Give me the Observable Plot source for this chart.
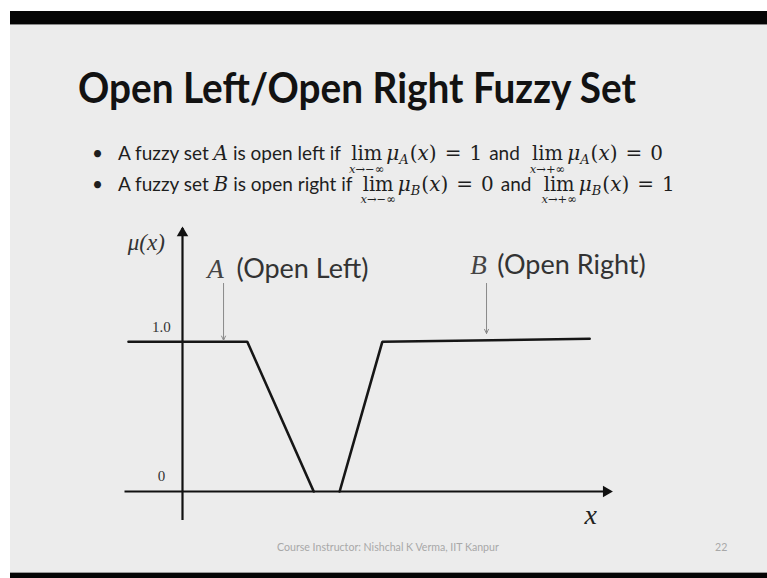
<!DOCTYPE html>
<html><head><meta charset="utf-8">
<script src="https://cdn.jsdelivr.net/npm/d3@7"></script>
<script src="https://cdn.jsdelivr.net/npm/@observablehq/plot@0.6"></script>
<style>
body{margin:0;width:767px;height:578px;background:#fff;overflow:hidden;position:relative;font-family:Lato,"Open Sans",sans-serif}
#slide{position:absolute;left:10px;top:11px;width:757px;height:567px;background:#ececec}
#topbar{position:absolute;left:10px;top:11px;width:757px;height:13px;background:#050505;border-bottom:1px solid #888}
#botbar{position:absolute;left:10px;top:572px;width:757px;height:6px;background:#050505;border-top:1px solid #999}
#title{position:absolute;left:78px;top:66px;font-weight:700;font-size:42px;line-height:1;color:#121212;white-space:nowrap;transform-origin:0 0}
.row{position:absolute;left:90px;display:flex;align-items:baseline;white-space:nowrap;font-size:19px;line-height:1;color:#1e1e1e}
.bul{width:26px;text-align:left;padding-left:2px}
.m{font-family:"DejaVu Serif","Liberation Serif",serif;font-size:20px}
.it{font-style:italic}
.eq{margin:0 8px}
.and{margin:0 2px 0 7px}
.lim{display:inline-flex;flex-direction:column;align-items:center;margin:0 2px 0 8px;font-family:"DejaVu Serif","Liberation Serif",serif;font-size:19.5px;line-height:0.8}
.lim .sub{font-size:11.5px;line-height:0.9;margin-top:2px;font-style:italic}
.ssub{font-size:13px;font-style:italic;position:relative;top:4px;margin-right:1px}
#chart{position:absolute;left:100px;top:215px}
#footer{position:absolute;left:277px;top:541px;font-size:10.6px;color:#a8a8a8;white-space:nowrap}
#page{position:absolute;left:715px;top:541px;font-size:10.6px;color:#a8a8a8}
</style></head>
<body>
<div id="slide"></div>
<div id="topbar"></div>
<div id="botbar"></div>
<div id="title">Open Left/Open Right Fuzzy Set</div>
<div id="bullets"></div>
<div id="chart"></div>
<div id="footer">Course Instructor: Nishchal K Verma, IIT Kanpur</div>
<div id="page">22</div>
<script>
// ---- text data ----
const bulletSets = ["A", "B"];
const bulletKinds = ["open left", "open right"];
const limMinusValues = ["1", "0"];
const limPlusValues = ["0", "1"];

// ---- chart data ----
const setA_x = [-1.0, 1.2, 2.43];
const setA_mu = [1, 1, 0];
const setB_x = [2.91, 3.70, 7.54];
const setB_mu = [0, 1, 1.02];
const xAxisRange = [-1.0, 7.94];
const yAxisRange = [-0.19, 1.76];
const tickValues = [1, 0];
const tickLabels = ["1.0", "0"];
const annLetters = ["A", "B"];
const annWords = ["(Open Left)", "(Open Right)"];
const annLetterX = [0.46, 5.33];
const annWordX = [1.0, 5.83];
const annBaseline = [1.423, 1.456];
const pointerX = [0.76, 5.63];
const pointerTop = [1.39, 1.39];
const pointerBottom = [1.01, 1.055];

// title fitted to the reference width
const title = document.getElementById("title");
const tw = title.getBoundingClientRect().width;
title.style.transform = `scaleX(${558 / tw})`;

// bullets
const bulletsDiv = document.getElementById("bullets");
const rowTops = [143, 173.5];
bulletSets.forEach((s, i) => {
  const row = document.createElement("div");
  row.className = "row";
  row.style.top = rowTops[i] + "px";
  row.innerHTML =
    `<span class="bul">•</span>` +
    `<span>A fuzzy set&nbsp;<span class="m it">${s}</span>&nbsp;is ${bulletKinds[i]} if</span>` +
    `<span class="lim"><span>lim</span><span class="sub">x→−∞</span></span>` +
    `<span class="m"><span class="it">μ</span><span class="ssub">${s}</span>(<span class="it">x</span>)<span class="eq">=</span>${limMinusValues[i]}</span>` +
    `<span class="and">and</span>` +
    `<span class="lim"><span>lim</span><span class="sub">x→+∞</span></span>` +
    `<span class="m"><span class="it">μ</span><span class="ssub">${s}</span>(<span class="it">x</span>)<span class="eq">=</span>${limPlusValues[i]}</span>`;
  bulletsDiv.appendChild(row);
});

const A = setA_x.map((x, i) => ({x, y: setA_mu[i]}));
const B = setB_x.map((x, i) => ({x, y: setB_mu[i]}));
const ticks = tickValues.map((v, i) => ({y: v, label: tickLabels[i]}));
const ann = annLetters.map((l, i) => ({letter: l, word: annWords[i], lx: annLetterX[i], wx: annWordX[i], y: annBaseline[i], px: pointerX[i], top: pointerTop[i], bottom: pointerBottom[i]}));

const serif = "'Liberation Serif', 'DejaVu Serif', serif";
const sans = "Lato, 'Open Sans', sans-serif";

const chart = Plot.plot({
  width: 540,
  height: 320,
  margin: 0,
  x: {domain: [-1.5185, 8.4815], range: [0, 540], axis: null},
  y: {domain: [-0.2939, 1.8437], range: [320, 0], axis: null},
  style: {background: "transparent", overflow: "visible"},
  marks: [
    // axes
    Plot.link([{x1: xAxisRange[0], x2: xAxisRange[1], y: 0}], {x1: "x1", x2: "x2", y1: "y", y2: "y", stroke: "#111", strokeWidth: 2.2, dx: -4}),
    Plot.link([{y1: yAxisRange[0], y2: yAxisRange[1], x: 0}], {y1: "y1", y2: "y2", x1: "x", x2: "x", stroke: "#111", strokeWidth: 2.2}),
    Plot.dot([{x: xAxisRange[1], y: 0}], {x: "x", y: "y", symbol: "triangle2", rotate: 90, r: 5.5, fill: "#111", dx: -5}),
    Plot.dot([{x: 0, y: yAxisRange[1]}], {x: "x", y: "y", symbol: "triangle2", r: 5.5, fill: "#111", dy: 5}),
    // membership functions
    Plot.line(A, {x: "x", y: "y", stroke: "#161616", strokeWidth: 2.6, strokeLinejoin: "miter"}),
    Plot.line(B, {x: "x", y: "y", stroke: "#161616", strokeWidth: 2.6, strokeLinejoin: "miter"}),
    // tick labels
    Plot.text(ticks, {x: 0, y: "y", text: "label", dx: -21, dy: -15, fontFamily: serif, fontSize: 15, fill: "#333", textAnchor: "middle"}),
    // axis titles
    Plot.text([{x: -0.67, y: 1.66, t: "μ(x)"}], {x: "x", y: "y", text: "t", fontFamily: serif, fontStyle: "italic", fontSize: 23, fill: "#333", textAnchor: "middle"}),
    Plot.text([{x: 7.56, y: -0.16, t: "x"}], {x: "x", y: "y", text: "t", fontFamily: serif, fontStyle: "italic", fontSize: 28, fill: "#222", textAnchor: "middle"}),
    // annotations
    Plot.arrow(ann, {x1: "px", x2: "px", y1: "top", y2: "bottom", stroke: "#8a8a8a", strokeWidth: 1, headLength: 7, headAngle: 50}),
    Plot.text(ann, {x: "lx", y: "y", text: "letter", fontFamily: serif, fontStyle: "italic", fontSize: 27, fill: "#444", textAnchor: "start", lineAnchor: "bottom"}),
    Plot.text(ann, {x: "wx", y: "y", text: "word", fontFamily: sans, fontSize: 27, fill: "#333", textAnchor: "start", lineAnchor: "bottom"})
  ]
});
document.getElementById("chart").appendChild(chart);
</script>
</body></html>
